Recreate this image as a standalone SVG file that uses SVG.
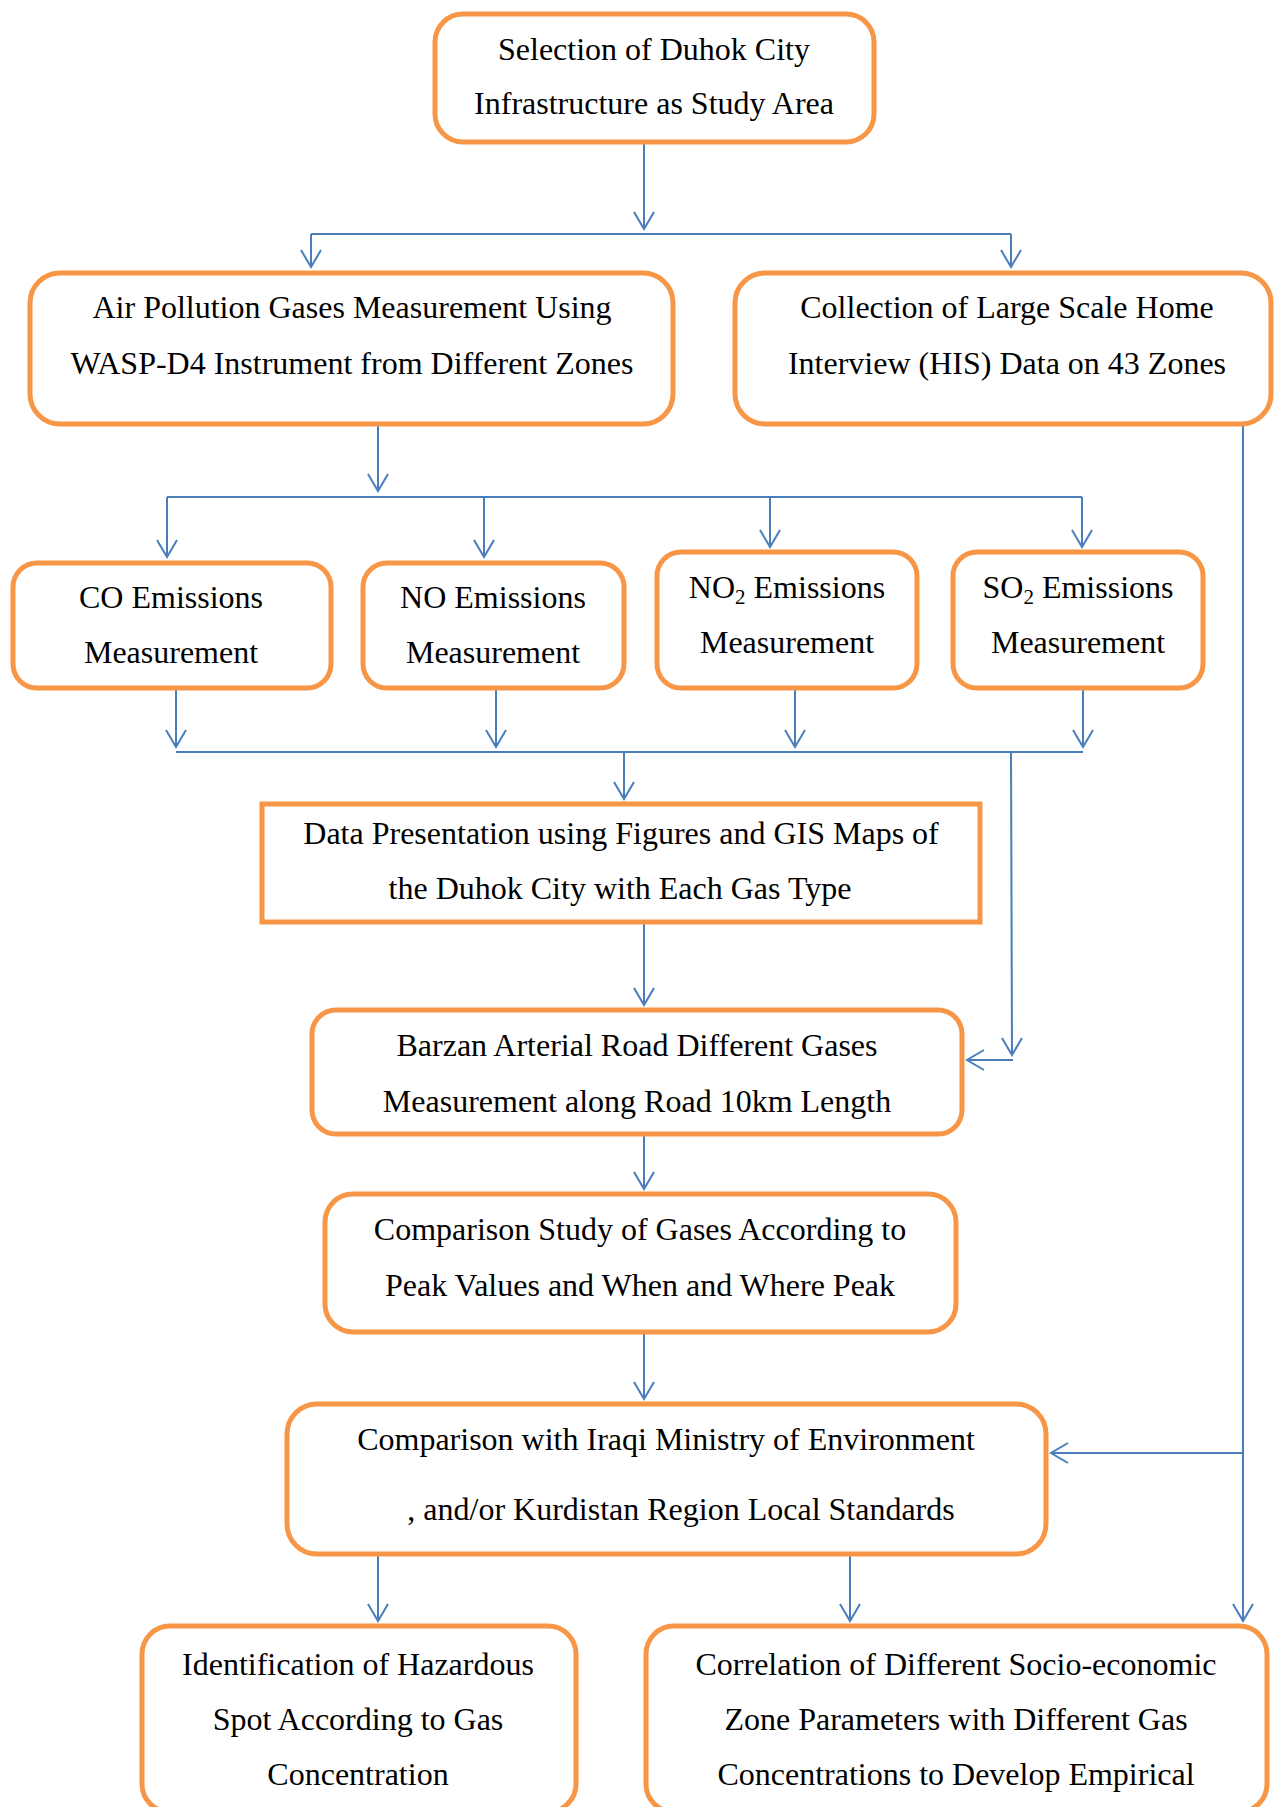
<svg xmlns="http://www.w3.org/2000/svg" width="1275" height="1807" viewBox="0 0 1275 1807">
<style>
.box{fill:#fff;stroke:#F79646;stroke-width:5}
.t{font-family:"Liberation Serif","Times New Roman",serif;font-size:32px;fill:#000;text-anchor:middle}
.c{fill:none;stroke:#4A7EBB;stroke-width:2}
</style>
<defs>
<marker id="arr" markerUnits="userSpaceOnUse" orient="auto" overflow="visible" markerWidth="1" markerHeight="1" refX="0" refY="0">
<path d="M-17,-10 L0,0 L-17,10" fill="none" stroke="#4A7EBB" stroke-width="2"/>
</marker>
</defs>
<rect width="1275" height="1807" fill="#fff"/>
<g id="connectors">
<path class="c" d="M644,143 V229" marker-end="url(#arr)"/>
<path class="c" d="M311,234 H1011"/>
<path class="c" d="M311,234 V267" marker-end="url(#arr)"/>
<path class="c" d="M1011,234 V267" marker-end="url(#arr)"/>
<path class="c" d="M378,425 V491" marker-end="url(#arr)"/>
<path class="c" d="M167,497 H1082"/>
<path class="c" d="M167,497 V557" marker-end="url(#arr)"/>
<path class="c" d="M484,497 V557" marker-end="url(#arr)"/>
<path class="c" d="M770,497 V547" marker-end="url(#arr)"/>
<path class="c" d="M1082,497 V547" marker-end="url(#arr)"/>
<path class="c" d="M176,688 V747" marker-end="url(#arr)"/>
<path class="c" d="M496,688 V747" marker-end="url(#arr)"/>
<path class="c" d="M795,688 V747" marker-end="url(#arr)"/>
<path class="c" d="M1083,688 V747" marker-end="url(#arr)"/>
<path class="c" d="M176,752 H1083"/>
<path class="c" d="M624,752 V799" marker-end="url(#arr)"/>
<path class="c" d="M1011,752 L1012,1055" marker-end="url(#arr)"/>
<path class="c" d="M1013,1060 H967" marker-end="url(#arr)"/>
<path class="c" d="M644,923 V1005" marker-end="url(#arr)"/>
<path class="c" d="M644,1134 V1189" marker-end="url(#arr)"/>
<path class="c" d="M644,1332 V1399" marker-end="url(#arr)"/>
<path class="c" d="M1243,425 V1621" marker-end="url(#arr)"/>
<path class="c" d="M1243,1453 H1051" marker-end="url(#arr)"/>
<path class="c" d="M378,1554 V1621" marker-end="url(#arr)"/>
<path class="c" d="M850,1554 V1621" marker-end="url(#arr)"/>
</g>
<g id="n-selection">
<rect class="box" x="435" y="14" width="439" height="128" rx="28"/>
<text class="t" x="654" y="60">Selection of Duhok City</text>
<text class="t" x="654" y="114">Infrastructure as Study Area</text>
</g>
<g id="n-air">
<rect class="box" x="30" y="273" width="643" height="151" rx="30"/>
<text class="t" x="352" y="318">Air Pollution Gases Measurement Using</text>
<text class="t" x="352" y="374">WASP-D4 Instrument from Different Zones</text>
</g>
<g id="n-collection">
<rect class="box" x="735" y="273" width="536" height="151" rx="30"/>
<text class="t" x="1007" y="318">Collection of Large Scale Home</text>
<text class="t" x="1007" y="374">Interview (HIS) Data on 43 Zones</text>
</g>
<g id="n-co">
<rect class="box" x="13" y="563" width="318" height="125" rx="24"/>
<text class="t" x="171" y="608">CO Emissions</text>
<text class="t" x="171" y="663">Measurement</text>
</g>
<g id="n-no">
<rect class="box" x="363" y="563" width="261" height="125" rx="24"/>
<text class="t" x="493" y="608">NO Emissions</text>
<text class="t" x="493" y="663">Measurement</text>
</g>
<g id="n-no2">
<rect class="box" x="657" y="552" width="260" height="136" rx="24"/>
<text class="t" x="787" y="598">NO<tspan font-size="21" dy="6">2</tspan><tspan dy="-6"> Emissions</tspan></text>
<text class="t" x="787" y="653">Measurement</text>
</g>
<g id="n-so2">
<rect class="box" x="953" y="552" width="250" height="136" rx="24"/>
<text class="t" x="1078" y="598">SO<tspan font-size="21" dy="6">2</tspan><tspan dy="-6"> Emissions</tspan></text>
<text class="t" x="1078" y="653">Measurement</text>
</g>
<g id="n-data">
<rect class="box" x="262" y="804" width="718" height="118"/>
<text class="t" x="621" y="844">Data Presentation using Figures and GIS Maps of</text>
<text class="t" x="620" y="899">the Duhok City with Each Gas Type</text>
</g>
<g id="n-barzan">
<rect class="box" x="312" y="1010" width="650" height="124" rx="24"/>
<text class="t" x="637" y="1056">Barzan Arterial Road Different Gases</text>
<text class="t" x="637" y="1112">Measurement along Road 10km Length</text>
</g>
<g id="n-compstudy">
<rect class="box" x="325" y="1194" width="631" height="138" rx="28"/>
<text class="t" x="640" y="1240">Comparison Study of Gases According to</text>
<text class="t" x="640" y="1296">Peak Values and When and Where Peak</text>
</g>
<g id="n-iraqi">
<rect class="box" x="287" y="1404" width="759" height="150" rx="30"/>
<text class="t" x="666" y="1450">Comparison with Iraqi Ministry of Environment</text>
<text class="t" x="681" y="1520">, and/or Kurdistan Region Local Standards</text>
</g>
<g id="n-hazard">
<rect class="box" x="142" y="1626" width="434" height="186" rx="28"/>
<text class="t" x="358" y="1675">Identification of Hazardous</text>
<text class="t" x="358" y="1730">Spot According to Gas</text>
<text class="t" x="358" y="1785">Concentration</text>
</g>
<g id="n-correlation">
<rect class="box" x="646" y="1626" width="621" height="186" rx="28"/>
<text class="t" x="956" y="1675">Correlation of Different Socio-economic</text>
<text class="t" x="956" y="1730">Zone Parameters with Different Gas</text>
<text class="t" x="956" y="1785">Concentrations to Develop Empirical</text>
</g>
</svg>
